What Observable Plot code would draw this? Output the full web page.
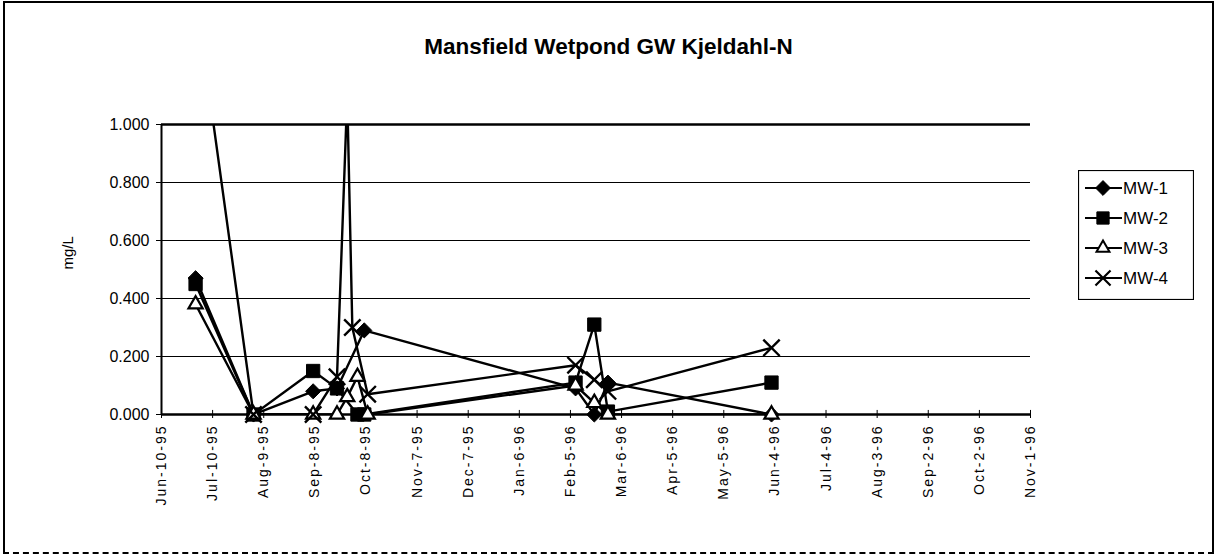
<!DOCTYPE html>
<html><head><meta charset="utf-8">
<script src="https://cdn.jsdelivr.net/npm/d3@7"></script>
<script src="https://cdn.jsdelivr.net/npm/@observablehq/plot@0.6"></script>
<style>
body{margin:0;background:#fff;font-family:"Liberation Sans",Arial,sans-serif;}
#frame{position:relative;width:1217px;height:558px;overflow:hidden;background:#fff;}
#border{position:absolute;left:3px;top:1px;width:1207px;height:549px;border:2px solid #000;border-bottom:2px dashed #000;box-sizing:content-box;}
#title{position:absolute;left:0;width:1217px;top:34px;text-align:center;font-weight:bold;font-size:22.5px;color:#000;}
#chart{position:absolute;left:0;top:0;}
#legend{position:absolute;left:1078px;top:170px;}
</style></head>
<body>
<div id="frame"><div id="border"></div><div id="title">Mansfield Wetpond GW Kjeldahl-N</div><div id="chart"></div><div id="legend"></div></div>
<script>
// ---- data ----
const seriesNames = ["MW-1", "MW-2", "MW-3", "MW-4"];

const mw1Dates  = ["1995-06-30","1995-08-03","1995-09-07","1995-09-21","1995-10-07","1996-02-08","1996-02-19","1996-02-27","1996-06-02"];
const mw1Values = [0.47, 0.00, 0.08, 0.09, 0.29, 0.09, 0.00, 0.11, 0.00];

const mw2Dates  = ["1995-06-30","1995-08-03","1995-09-07","1995-09-21","1995-10-03","1995-10-07","1996-02-08","1996-02-19","1996-02-27","1996-06-02"];
const mw2Values = [0.45, 0.00, 0.15, 0.09, 0.00, 0.00, 0.11, 0.31, 0.01, 0.11];

const mw3Dates  = ["1995-06-30","1995-08-03","1995-09-07","1995-09-21","1995-09-27","1995-10-03","1995-10-09","1996-02-08","1996-02-19","1996-02-27","1996-06-02"];
const mw3Values = [0.38, 0.00, 0.00, 0.00, 0.06, 0.13, 0.00, 0.10, 0.04, 0.00, 0.00];

const mw4Dates  = ["1995-06-30","1995-08-03","1995-09-07","1995-09-21","1995-09-27","1995-09-30","1995-10-09","1996-02-08","1996-02-19","1996-02-27","1996-06-02"];
const mw4Values = [1.45, 0.00, 0.00, 0.13, 1.10, 0.30, 0.07, 0.17, 0.12, 0.08, 0.23];

const xTickDates = ["1995-06-10","1995-07-10","1995-08-09","1995-09-08","1995-10-08","1995-11-07","1995-12-07","1996-01-06","1996-02-05","1996-03-06","1996-04-05","1996-05-05","1996-06-04","1996-07-04","1996-08-03","1996-09-02","1996-10-02","1996-11-01"];
const yTicks = [0, 0.2, 0.4, 0.6, 0.8, 1.0];
const yMax = 1.0;

// ---- build ----
const toRows = (name, dates, values) => dates.map((d, i) => ({series: name, date: new Date(d), value: values[i]}));
const rows1 = toRows("MW-1", mw1Dates, mw1Values);
const rows2 = toRows("MW-2", mw2Dates, mw2Values);
const rows3 = toRows("MW-3", mw3Dates, mw3Values);
const rows4 = toRows("MW-4", mw4Dates, mw4Values);
const xTicks = xTickDates.map(d => new Date(d));
const fmt = d3.utcFormat("%b-%-d-%y");
const inRange = d => d.value <= yMax;

const lineOpts = {x: "date", y: "value", stroke: "#000", strokeWidth: 2.4, clip: true};

const chart = Plot.plot({
  width: 1217, height: 558,
  marginLeft: 161, marginRight: 187, marginTop: 124, marginBottom: 144,
  style: {fontFamily: "'Liberation Sans', Arial, sans-serif", background: "transparent", color: "#000"},
  x: {type: "utc", domain: [xTicks[0], xTicks[xTicks.length - 1]]},
  y: {domain: [0, yMax]},
  marks: [
    Plot.ruleY(yTicks, {stroke: "#000", strokeWidth: 1.2}),
    Plot.ruleY([yMax], {stroke: "#000", strokeWidth: 2.5}),
    Plot.ruleX([xTicks[0]], {stroke: "#000", strokeWidth: 2}),
    Plot.axisY({ticks: yTicks, tickFormat: d3.format(".3f"), tickSize: 5, tickPadding: 7, fontSize: 16, label: null}),
    Plot.text(["mg/L"], {frameAnchor: "left", dx: -93, rotate: -90, fontSize: 15}),
    Plot.axisX({ticks: xTicks, tickFormat: fmt, tickRotate: -90, tickSize: 4, tickPadding: 6, fontSize: 14, label: null}),
    Plot.ruleX(xTicks, {y1: 0, y2: 0.014, stroke: "#000", strokeWidth: 1}),
    Plot.line(rows1, lineOpts),
    Plot.line(rows2, lineOpts),
    Plot.line(rows3, lineOpts),
    Plot.line(rows4, lineOpts),
    Plot.ruleY([0], {stroke: "#000", strokeWidth: 2.5}),
    Plot.dot(rows1, {filter: inRange, x: "date", y: "value", symbol: "diamond2", r: 6.8, fill: "#000", stroke: "#000", strokeWidth: 1}),
    Plot.dot(rows2, {filter: inRange, x: "date", y: "value", symbol: "square", r: 7.5, fill: "#000", stroke: "#000", strokeWidth: 1}),
    Plot.dot(rows3, {filter: inRange, x: "date", y: "value", symbol: "triangle2", r: 6.8, fill: "#fff", stroke: "#000", strokeWidth: 2.2}),
    Plot.dot(rows4, {filter: inRange, x: "date", y: "value", symbol: "times", r: 7.5, stroke: "#000", strokeWidth: 2.4})
  ]
});
document.getElementById("chart").appendChild(chart);
d3.select(chart).selectAll('g[aria-label="x-axis tick label"] text')
  .attr("font-size", 14).style("font-size", "14px").style("letter-spacing", "2px");
d3.select(chart).selectAll('g[aria-label="y-axis tick label"] text')
  .attr("font-size", 16).style("font-size", "16px");

// ---- legend ----
const symbols = [
  {name: seriesNames[0], sym: d3.symbolDiamond2, size: 140, fill: "#000", sw: 1},
  {name: seriesNames[1], sym: d3.symbolSquare, size: 150, fill: "#000", sw: 1},
  {name: seriesNames[2], sym: d3.symbolTriangle2, size: 120, fill: "#fff", sw: 2},
  {name: seriesNames[3], sym: d3.symbolTimes, size: 150, fill: "none", sw: 2.2}
];
const lw = 116, lh = 130;
const svg = d3.select("#legend").append("svg").attr("width", lw).attr("height", lh);
svg.append("rect").attr("x", 0.5).attr("y", 0.5).attr("width", lw - 1).attr("height", lh - 1).attr("fill", "#fff").attr("stroke", "#000").attr("stroke-width", 1.2);
symbols.forEach((s, i) => {
  const cy = 18 + i * 30;
  const g = svg.append("g");
  g.append("line").attr("x1", 7).attr("x2", 44).attr("y1", cy).attr("y2", cy).attr("stroke", "#000").attr("stroke-width", 2.2);
  g.append("path").attr("d", d3.symbol(s.sym, s.size)()).attr("transform", `translate(25,${cy})`)
    .attr("fill", s.fill).attr("stroke", "#000").attr("stroke-width", s.sw);
  g.append("text").attr("x", 45).attr("y", cy + 6).attr("font-size", 17).attr("font-family", "'Liberation Sans', Arial, sans-serif").text(s.name);
});
</script>
</body></html>
